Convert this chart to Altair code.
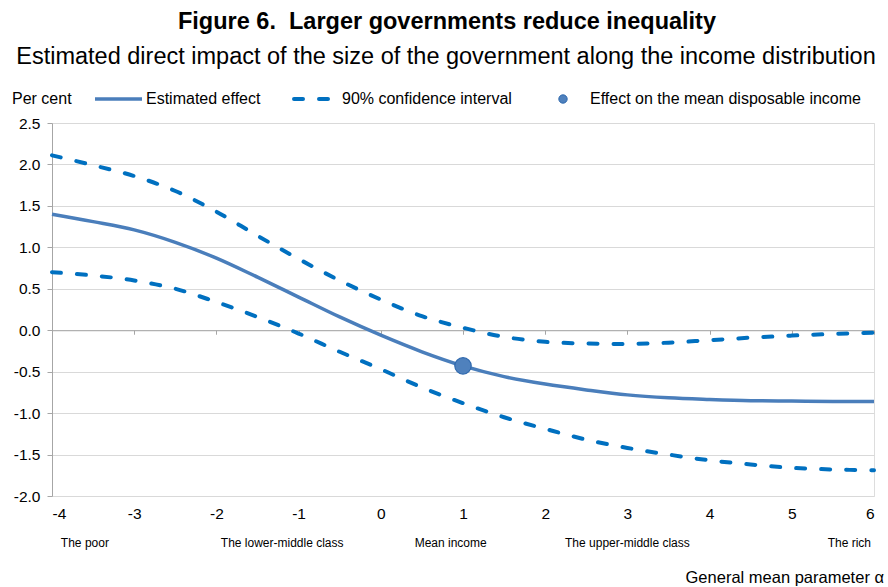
import altair as alt
import pandas as pd

# General mean parameter (alpha) and estimated effects, per cent
alpha = [-4, -3.5, -3, -2.5, -2, -1.5, -1, -0.5, 0, 0.5, 1,
         1.5, 2, 2.5, 3, 3.5, 4, 4.5, 5, 5.5, 6]
effect = [1.40, 1.31, 1.21, 1.06, 0.87, 0.64, 0.40, 0.16, -0.06, -0.26, -0.43,
          -0.56, -0.65, -0.72, -0.78, -0.815, -0.835, -0.85, -0.855, -0.86, -0.86]
ci_upper = [2.11, 1.99, 1.86, 1.68, 1.43, 1.14, 0.86, 0.60, 0.37, 0.17, 0.03,
            -0.08, -0.14, -0.16, -0.165, -0.15, -0.12, -0.09, -0.065, -0.045, -0.03]
ci_lower = [0.70, 0.66, 0.60, 0.50, 0.34, 0.16, -0.04, -0.26, -0.47, -0.69, -0.88,
            -1.05, -1.19, -1.32, -1.42, -1.50, -1.57, -1.62, -1.66, -1.68, -1.69]

# Effect on the mean disposable income
mean_alpha = [1]
mean_effect = [-0.43]

# Income-group annotations placed along the alpha axis
group_labels = ["The poor", "The lower-middle class", "Mean income",
                "The upper-middle class", "The rich"]
group_pos = [-3.6, -1.2, 0.85, 3.0, 5.7]

x_ticks = list(range(-4, 7))
y_ticks = [-2.0, -1.5, -1.0, -0.5, 0.0, 0.5, 1.0, 1.5, 2.0, 2.5]

FONT = "Liberation Sans, Arial, sans-serif"
SOLID = "#4A7EBB"
DASHED = "#0070C0"

W, H = 822, 373
zero_offset = -H * 2.0 / 4.5  # pixel distance of y = 0 above the bottom edge

lines = pd.DataFrame({"alpha": alpha, "effect": effect})
bands = pd.concat([
    pd.DataFrame({"alpha": alpha, "value": ci_upper, "series": "upper"}),
    pd.DataFrame({"alpha": alpha, "value": ci_lower, "series": "lower"}),
])
dot = pd.DataFrame({"alpha": mean_alpha, "effect": mean_effect})
groups = pd.DataFrame({"label": group_labels, "pos": group_pos})

xscale = alt.Scale(domain=[-4, 6], nice=False, zero=False)
yscale = alt.Scale(domain=[-2.0, 2.5], nice=False, zero=False)

x_axis = alt.Axis(
    values=x_ticks, domain=False, ticks=False, tickSize=0, grid=False,
    labelFont=FONT, labelFontSize=15.5, labelColor="#000000", labelPadding=10,
    labelExpr="datum.value < 0 ? '-' + format(-datum.value, 'd') : format(datum.value, 'd')",
    title=None, orient="bottom",
)
zero_axis = alt.Axis(
    values=x_ticks, domain=True, domainColor="#A6A6A6", domainWidth=1,
    ticks=True, tickColor="#A6A6A6", tickSize=4, labels=False, grid=False,
    title=None, orient="bottom", offset=zero_offset,
)
y_axis = alt.Axis(
    values=y_ticks, grid=True, gridColor="#D9D9D9", gridWidth=1,
    domain=True, domainColor="#A6A6A6", ticks=True, tickColor="#A6A6A6",
    tickSize=5, labelFont=FONT, labelFontSize=15.5, labelColor="#000000",
    labelPadding=7,
    labelExpr="datum.value < 0 ? '-' + format(-datum.value, '.1f') : format(datum.value, '.1f')",
    title=None,
)

effect_line = alt.Chart(lines).mark_line(
    color=SOLID, strokeWidth=3.5, interpolate="catmull-rom"
).encode(
    x=alt.X("alpha:Q", scale=xscale, axis=x_axis),
    y=alt.Y("effect:Q", scale=yscale, axis=y_axis),
)

band_lines = alt.Chart(bands).mark_line(
    color=DASHED, strokeWidth=4, strokeDash=[9, 16], strokeCap="round",
    interpolate="catmull-rom",
).encode(
    x=alt.X("alpha:Q", scale=xscale, axis=None),
    y=alt.Y("value:Q", scale=yscale),
    detail="series:N",
)

mean_dot = alt.Chart(dot).mark_circle(
    size=270, color="#4F81BD", opacity=1, stroke="#2F69AE", strokeWidth=1.2
).encode(
    x=alt.X("alpha:Q", scale=xscale, axis=zero_axis),
    y=alt.Y("effect:Q", scale=yscale),
)

group_text = alt.Chart(groups).mark_text(
    font=FONT, fontSize=12, color="#000000", baseline="middle", align="center"
).encode(
    x=alt.X("pos:Q", scale=xscale, axis=None),
    y=alt.value(420),
    text="label:N",
)


def label(text, x, y, size, align="left", weight="normal"):
    return alt.Chart(pd.DataFrame({"t": [text]})).mark_text(
        font=FONT, fontSize=size, fontWeight=weight, color="#000000",
        align=align, baseline="middle",
    ).encode(x=alt.value(x), y=alt.value(y), text="t:N")


one = pd.DataFrame({"k": [0]})
legend_solid = alt.Chart(one).mark_rule(color=SOLID, strokeWidth=3.5).encode(
    x=alt.value(43), x2=alt.value(90), y=alt.value(-24)
)
legend_dash = alt.Chart(one).mark_rule(
    color=DASHED, strokeWidth=4, strokeDash=[9, 16], strokeCap="round"
).encode(x=alt.value(242), x2=alt.value(281), y=alt.value(-24))
legend_dot = alt.Chart(one).mark_circle(
    size=70, color="#4F81BD", opacity=1, stroke="#2F69AE", strokeWidth=1
).encode(x=alt.value(511), y=alt.value(-24))

chart = alt.layer(
    effect_line,
    band_lines,
    mean_dot,
    group_text,
    legend_solid,
    legend_dash,
    legend_dot,
    label("Figure 6.\u00a0 Larger governments reduce inequality", 395, -101, 23.5, "center", "bold"),
    label("Estimated direct impact of the size of the government along the income distribution",
          394, -66, 23.5, "center"),
    label("Per cent", -40, -24, 16),
    label("Estimated effect", 94, -24, 16),
    label("90% confidence interval", 290, -24, 16),
    label("Effect on the mean disposable income", 538, -24, 16),
    label("General mean parameter α", 832, 455, 16.5, "right"),
).resolve_axis(
    x="independent"
).properties(
    width=W, height=H,
    padding={"left": 52, "top": 123, "right": 14, "bottom": 91},
    autosize=alt.AutoSizeParams(type="none"),
).configure_view(stroke=None).configure(background="white")

chart.save("out.html", embed_options={"renderer": "svg", "actions": False})
